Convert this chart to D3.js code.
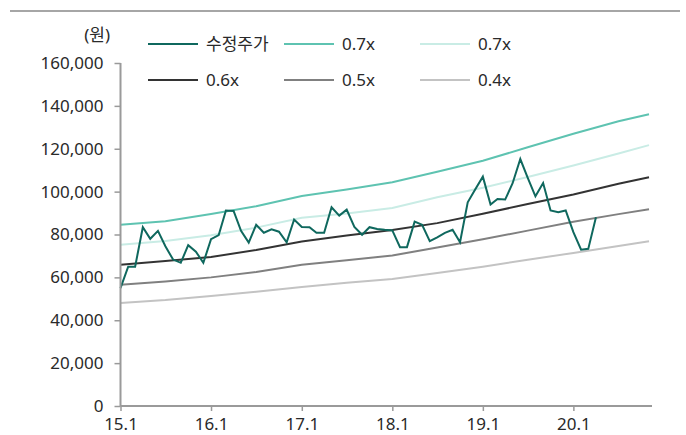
<!DOCTYPE html>
<html>
<head>
<meta charset="utf-8">
<script src="https://cdn.jsdelivr.net/npm/d3@7"></script>
<style>
  body { margin: 0; background: #fff; }
  svg { display: block; }
  text { font-family: "Noto Sans", "Noto Sans CJK KR", sans-serif; fill: #2a2a2a; }
</style>
</head>
<body>
<svg id="chart" width="686" height="435"></svg>
<script>
// Adjusted share price, monthly from Jan 2015 to Apr 2020 (thousand KRW)
const priceStart = "2015-01";
const price = [
  55, 65, 65, 83.4, 78, 81.7, 74.5, 68.3, 66.8, 75, 72, 66.8,          // 2015
  77.8, 79.7, 91.2, 91, 81.7, 76.2, 84.5, 80.8, 82.4, 81.3, 76.4, 87,   // 2016
  83.5, 83.4, 80.8, 80.8, 92.7, 88.8, 91.6, 83.5, 79.9, 83.4, 82.6, 82.2, // 2017
  81.9, 74.1, 74.1, 86, 84.5, 76.9, 78.7, 80.8, 82.2, 76.4, 95, 101,    // 2018
  107, 94, 96.6, 96.3, 103.9, 115.2, 106.4, 97.8, 104, 91.2, 90.4, 91.2, // 2019
  81.1, 72.9, 73.3, 88                                                 // 2020
];

// P/B band lines (thousand KRW)
const bandMonths = ["2015-01", "2015-07", "2016-01", "2016-07", "2017-01", "2017-07", "2018-01",
                    "2018-07", "2019-01", "2019-07", "2020-01", "2020-07", "2020-11"];
const band07a = [84.5, 86.2, 89.6, 93.2, 98, 101, 104.4, 109.3, 114.4, 120.7, 127, 132.8, 136.1];
const band07b = [75.2, 77, 79.6, 83.2, 87.8, 89.8, 92.4, 97.4, 101.8, 106.8, 112.2, 117.8, 121.7];
const band06  = [65.9, 67.6, 69.5, 72.8, 76.7, 79.5, 82.1, 85.3, 89.7, 94.2, 98.7, 103.7, 106.7];
const band05  = [56.6, 58.1, 60, 62.5, 65.9, 68, 70.2, 73.9, 77.8, 81.8, 85.9, 89.5, 91.8];
const band04  = [48.0, 49.4, 51.3, 53.3, 55.5, 57.5, 59.2, 62.0, 65.0, 68.2, 71.4, 74.6, 76.9];

const seriesNames = ["수정주가", "0.7x", "0.7x", "0.6x", "0.5x", "0.4x"];
const yTicks = [0, 20, 40, 60, 80, 100, 120, 140, 160];
const unitLabel = "(원)";

// Styling
const colors = ["#0f685e", "#5ec3b1", "#c9ece5", "#333333", "#808080", "#c3c3c3"];

const parseMonth = d3.timeParse("%Y-%m");
const svg = d3.select("#chart");

const x = d3.scaleTime()
  .domain([new Date(2015, 0, 1), new Date(2020, 10, 13)])
  .range([120.5, 652]);
const y = d3.scaleLinear().domain([0, 160]).range([406, 63]);

// top rule
svg.append("line")
  .attr("x1", 10).attr("x2", 680).attr("y1", 11).attr("y2", 11)
  .attr("stroke", "#a6a6a6").attr("stroke-width", 2);

// series data
const start = parseMonth(priceStart);
const priceData = price.map((v, i) => ({ date: d3.timeMonth.offset(start, i), value: v }));
const bandDates = bandMonths.map(parseMonth);
const bands = [band07a, band07b, band06, band05, band04].map(arr =>
  arr.map((v, i) => ({ date: bandDates[i], value: v })));

const line = d3.line().x(d => x(d.date)).y(d => y(d.value));

// draw bands from lightest to darkest, price on top
const bandOrder = [4, 1, 3, 2, 0];
bandOrder.forEach(k => {
  svg.append("path")
    .datum(bands[k])
    .attr("fill", "none")
    .attr("stroke", colors[k + 1])
    .attr("stroke-width", 2)
    .attr("d", line);
});
svg.append("path")
  .datum(priceData)
  .attr("fill", "none")
  .attr("stroke", colors[0])
  .attr("stroke-width", 2)
  .attr("d", line);

// axes
const axisColor = "#9a9a9a";
const yAxis = svg.append("g")
  .attr("transform", "translate(120.5,0)")
  .call(d3.axisLeft(y).tickValues(yTicks).tickSize(6).tickPadding(11)
    .tickFormat(d => d3.format(",")(d * 1000)));
const xAxis = svg.append("g")
  .attr("transform", "translate(0,406)")
  .call(d3.axisBottom(x)
    .ticks(d3.timeYear.every(1))
    .tickSize(5)
    .tickFormat(d3.timeFormat("%y.%-m")));

[yAxis, xAxis].forEach(g => {
  g.select(".domain").attr("stroke", axisColor).attr("stroke-width", 2);
  g.selectAll(".tick line").attr("stroke", axisColor).attr("stroke-width", 1.5);
  g.selectAll("text").attr("font-size", 17).attr("fill", "#2a2a2a")
    .style("font-family", "\"Noto Sans\", \"Noto Sans CJK KR\", sans-serif");
});
xAxis.selectAll("text").attr("y", 24).attr("dy", null);
// plain axis lines without outer ticks
yAxis.select(".domain").attr("d", `M0,${y(160)}V${y(0)}`);
xAxis.select(".domain").attr("d", `M${x.range()[0]},0H${x.range()[1]}`);

// unit label
svg.append("text")
  .attr("x", 110).attr("y", 41)
  .attr("text-anchor", "end")
  .attr("font-size", 17)
  .text(unitLabel);

// legend: two rows of three
const legendCols = [148, 284, 420];
const legendRows = [44, 80];
seriesNames.forEach((name, i) => {
  const lx = legendCols[i % 3];
  const ly = legendRows[Math.floor(i / 3)];
  const g = svg.append("g");
  g.append("line")
    .attr("x1", lx).attr("x2", lx + 50)
    .attr("y1", ly).attr("y2", ly)
    .attr("stroke", colors[i]).attr("stroke-width", 2);
  g.append("text")
    .attr("x", lx + 58).attr("y", ly + 6)
    .attr("font-size", 17)
    .text(name);
});
</script>
</body>
</html>
